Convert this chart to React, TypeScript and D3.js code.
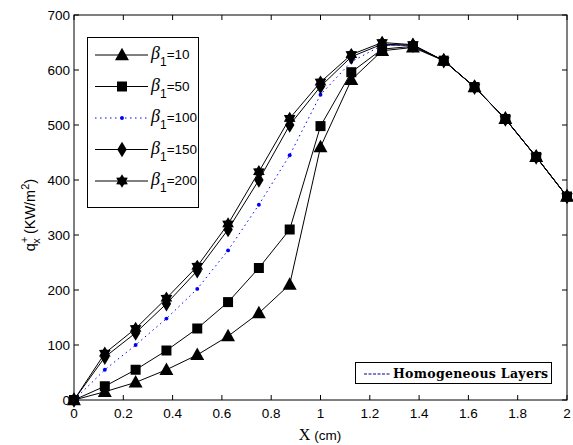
import React from "react";
import * as d3 from "d3";

const xs = [0, 0.125, 0.25, 0.375, 0.5, 0.625, 0.75, 0.875, 1, 1.125, 1.25, 1.375, 1.5, 1.625, 1.75, 1.875, 2];
const b10 = [0, 15, 32, 55, 82, 116, 158, 210, 460, 582, 635, 641, 617, 569, 511, 442, 370];
const b50 = [0, 25, 55, 90, 130, 178, 240, 310, 498, 596, 638, 643, 617, 569, 511, 442, 370];
const b100 = [0, 55, 100, 148, 202, 272, 355, 445, 555, 615, 645, 645, 617, 569, 511, 442, 370];
const b150 = [0, 78, 122, 175, 235, 310, 400, 500, 570, 624, 647, 645, 617, 569, 511, 442, 370];
const b200 = [0, 85, 130, 185, 243, 320, 415, 512, 578, 628, 650, 646, 617, 569, 511, 442, 370];
const homX = [1.25, 1.375, 1.5, 1.625, 1.75, 1.875, 2];
const homY = [645, 645, 617, 569, 511, 442, 370];
const xTicks = [0, 0.2, 0.4, 0.6, 0.8, 1, 1.2, 1.4, 1.6, 1.8, 2];
const yTicks = [0, 100, 200, 300, 400, 500, 600, 700];
const legendLabels = ["10", "50", "100", "150", "200"];

const hexagram = {
  draw(ctx: any, size: number) {
    const r = Math.sqrt(size) * 0.75;
    const ri = r * 0.6;
    for (let i = 0; i < 12; i++) {
      const a = (Math.PI / 6) * i - Math.PI / 2;
      const rr = i % 2 === 0 ? r : ri;
      const px = rr * Math.cos(a), py = rr * Math.sin(a);
      if (i === 0) ctx.moveTo(px, py); else ctx.lineTo(px, py);
    }
    ctx.closePath();
  },
};
const diamond = {
  draw(ctx: any, size: number) {
    const h = Math.sqrt(size) * 0.75, w = h * 0.6;
    ctx.moveTo(0, -h); ctx.lineTo(w, 0); ctx.lineTo(0, h); ctx.lineTo(-w, 0); ctx.closePath();
  },
};
const triangle = {
  draw(ctx: any, size: number) {
    const h = Math.sqrt(size) * 0.7;
    ctx.moveTo(0, -h); ctx.lineTo(h * 0.95, h * 0.7); ctx.lineTo(-h * 0.95, h * 0.7); ctx.closePath();
  },
};
const square = {
  draw(ctx: any, size: number) {
    const h = Math.sqrt(size) * 0.5;
    ctx.rect(-h, -h, 2 * h, 2 * h);
  },
};

export default function App() {
  const W = 573, H = 445;
  const x = d3.scaleLinear().domain([0, 2]).range([74, 567]);
  const y = d3.scaleLinear().domain([0, 700]).range([400, 15]);
  const line = (vals: number[], xv: number[] = xs) =>
    d3.line<number>().x((_, i) => x(xv[i])).y((d) => y(d))(vals) || "";

  const series = [
    { vals: b10, sym: triangle, size: 110, color: "#000", dash: null, fill: "#000" },
    { vals: b50, sym: square, size: 100, color: "#000", dash: null, fill: "#000" },
    { vals: b100, sym: d3.symbolCircle, size: 12, color: "#0000ff", dash: "1.5,3.5", fill: "#0000ff" },
    { vals: b150, sym: diamond, size: 110, color: "#000", dash: null, fill: "#000" },
    { vals: b200, sym: hexagram, size: 80, color: "#000", dash: null, fill: "#000" },
  ];

  return (
    <svg width={W} height={H} style={{ position: "absolute", left: 0, top: 0, background: "#fff" }}>
      <rect x={0} y={0} width={W} height={H} fill="#fff" />
      <rect x={74} y={15} width={493} height={385} fill="none" stroke="#000" strokeWidth={1} />
      {xTicks.map((t) => (
        <g key={"xt" + t}>
          <line x1={x(t)} x2={x(t)} y1={400} y2={395} stroke="#000" />
          <line x1={x(t)} x2={x(t)} y1={15} y2={20} stroke="#000" />
          <text x={x(t)} y={418} fontSize={13.5} textAnchor="middle" fontFamily="Liberation Sans, Arial, sans-serif">{t}</text>
        </g>
      ))}
      {yTicks.map((t) => (
        <g key={"yt" + t}>
          <line x1={74} x2={79} y1={y(t)} y2={y(t)} stroke="#000" />
          <line x1={567} x2={562} y1={y(t)} y2={y(t)} stroke="#000" />
          <text x={70} y={y(t) + 5} fontSize={13.5} textAnchor="end" fontFamily="Liberation Sans, Arial, sans-serif">{t}</text>
        </g>
      ))}
      <path d={line(homY, homX)} fill="none" stroke="#00008b" strokeWidth={1} strokeDasharray="3,2" />
      {series.map((s, k) => (
        <g key={"s" + k}>
          <path d={line(s.vals)} fill="none" stroke={s.color} strokeWidth={1} strokeDasharray={s.dash || undefined} />
          {s.vals.map((v, i) => (
            <path key={i} d={d3.symbol(s.sym as any, s.size)() || ""} transform={`translate(${x(xs[i])},${y(v)})`} fill={s.fill} />
          ))}
        </g>
      ))}
      <rect x={87.5} y={37.5} width={111} height={170} fill="#fff" stroke="#000" />
      {series.map((s, k) => {
        const ly = 55 + k * 31.5;
        return (
          <g key={"l" + k}>
            <line x1={95} x2={148} y1={ly} y2={ly} stroke={s.color} strokeDasharray={s.dash || undefined} />
            <path d={d3.symbol(s.sym as any, s.size)() || ""} transform={`translate(122,${ly})`} fill={s.fill} />
            <text x={151} y={ly + 4} fontSize={13.5} fontFamily="Liberation Sans, Arial, sans-serif">
              <tspan fontFamily="Liberation Serif, Times New Roman, serif" fontStyle="italic" fontSize={18}>β</tspan>
              <tspan dy={7} fontSize={12}>1</tspan>
              <tspan dy={-7}>={legendLabels[k]}</tspan>
            </text>
          </g>
        );
      })}
      <rect x={355.5} y={362.5} width={196} height={21} fill="#fff" stroke="#000" />
      <line x1={364} x2={390} y1={374} y2={374} stroke="#00008b" strokeDasharray="3,1.5" />
      <text x={393} y={378} fontSize={12.5} fontWeight="bold" fontFamily="DejaVu Serif, Liberation Serif, serif" letterSpacing={0.3}>Homogeneous Layers</text>
      <text x={320} y={440} textAnchor="middle" fontSize={13.5} fontFamily="Liberation Sans, Arial, sans-serif">
        <tspan fontFamily="Liberation Serif, Times New Roman, serif" fontSize={16}>X</tspan>
        <tspan> (cm)</tspan>
      </text>
      <text transform="translate(35,215) rotate(-90)" textAnchor="middle" fontSize={14.5} fontFamily="Liberation Sans, Arial, sans-serif">
        <tspan>q</tspan>
        <tspan dy={-7} fontSize={11}>+</tspan>
        <tspan dx={-7} dy={12} fontSize={11}>x</tspan>
        <tspan dy={-5}> (KW/m</tspan>
        <tspan dy={-6} fontSize={11}>2</tspan>
        <tspan dy={6}>)</tspan>
      </text>
    </svg>
  );
}
